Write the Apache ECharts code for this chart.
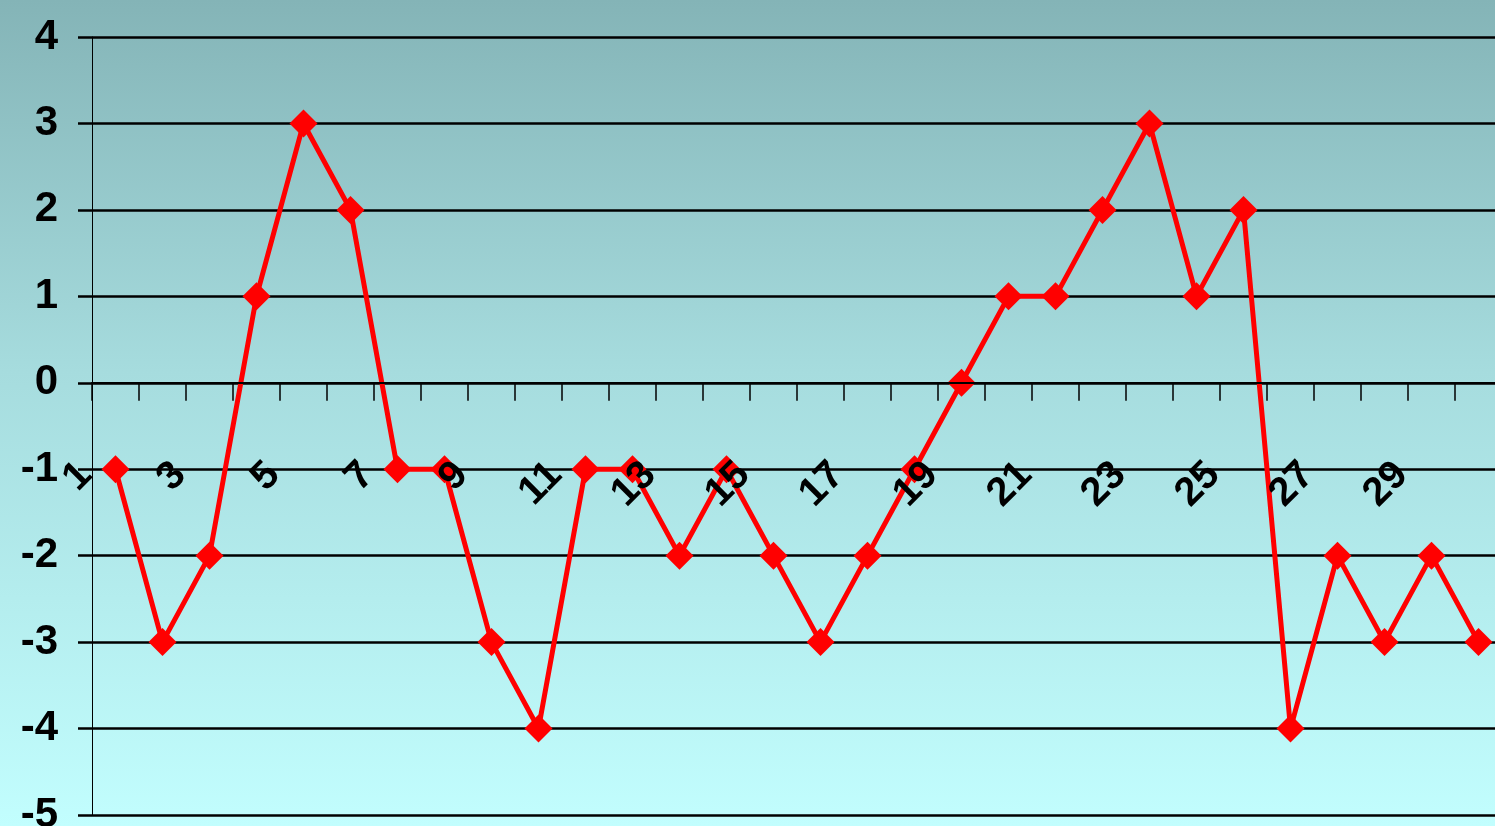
<!DOCTYPE html>
<html>
<head>
<meta charset="utf-8">
<script src="https://cdn.jsdelivr.net/npm/echarts@6/dist/echarts.min.js"></script>
<style>
html,body{margin:0;padding:0;width:1495px;height:826px;overflow:hidden;}
#chart{width:1495px;height:826px;}
</style>
</head>
<body>
<div id="chart"></div>
<script>
const categories = ['1','2','3','4','5','6','7','8','9','10','11','12','13','14','15','16','17','18','19','20','21','22','23','24','25','26','27','28','29','30'];
const values = [-1,-3,-2,1,3,2,-1,-1,-3,-4,-1,-1,-2,-1,-2,-3,-2,-1,0,1,1,2,3,1,2,-4,-2,-3,-2,-3];
const yMin = -5, yMax = 4, yStep = 1;

const chart = echarts.init(document.getElementById('chart'));
chart.setOption({
  backgroundColor: {
    type: 'linear', x: 0, y: 0, x2: 0, y2: 1,
    colorStops: [
      {offset: 0, color: '#84b4b7'},
      {offset: 0.45, color: '#a6dcde'},
      {offset: 1, color: '#c2fefe'}
    ]
  },
  animation: false,
  grid: {left: 92, top: 37, bottom: 11, right: -7, containLabel: false, outerBoundsMode: 'none'},
  xAxis: {
    type: 'category',
    data: categories,
    boundaryGap: true,
    z: 4,
    axisLine: {onZero: true, lineStyle: {color: '#000', width: 2}},
    axisTick: {show: true, interval: 0, length: 18, lineStyle: {color: '#000', width: 1.5}},
    axisLabel: {
      interval: 1, rotate: 45, margin: -376, padding: [0, 42, 0, 0],
      color: '#000', fontSize: 40, fontWeight: 'bold', fontFamily: 'Liberation Sans'
    },
    splitLine: {show: false}
  },
  yAxis: {
    type: 'value', min: yMin, max: yMax, interval: yStep,
    axisLine: {show: true, lineStyle: {color: '#000', width: 1}},
    axisTick: {show: true, length: 14, lineStyle: {color: '#000', width: 2.5}},
    axisLabel: {margin: 34, color: '#000', fontSize: 42, fontWeight: 'bold', fontFamily: 'Liberation Sans'},
    splitLine: {show: true, lineStyle: {color: '#000', width: 2.5}}
  },
  series: [{
    type: 'line',
    data: values,
    symbol: 'diamond',
    symbolSize: 28,
    lineStyle: {color: '#ff0000', width: 5},
    itemStyle: {color: '#ff0000'},
    z: 3
  }]
});
</script>
</body>
</html>
